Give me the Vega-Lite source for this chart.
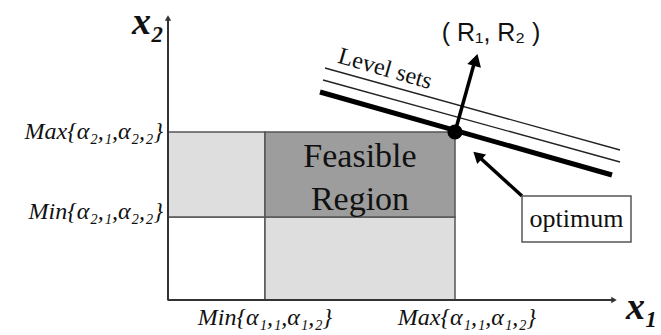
{
  "$schema": "https://vega.github.io/schema/vega-lite/v6.json",
  "width": 661,
  "height": 335,
  "padding": 0,
  "autosize": {"type": "none"},
  "background": "white",
  "config": {"view": {"stroke": null}},
  "datasets": {
    "regions": [
      {"x": 0, "x2": 97, "y": 0, "y2": 83, "part": "empty"},
      {"x": 0, "x2": 97, "y": 83, "y2": 168, "part": "side"},
      {"x": 97, "x2": 287, "y": 0, "y2": 83, "part": "side"},
      {"x": 97, "x2": 287, "y": 83, "y2": 168, "part": "feasible"}
    ],
    "axes": [
      {"axis": "x1", "x": 0, "y": 0},
      {"axis": "x1", "x": 446, "y": 0},
      {"axis": "x2", "x": 0, "y": 0},
      {"axis": "x2", "x": 0, "y": 282}
    ],
    "levels": [
      {"set": "optimal", "x": 152, "y": 208},
      {"set": "optimal", "x": 444, "y": 125},
      {"set": "upper1", "x": 155, "y": 220},
      {"set": "upper1", "x": 452, "y": 138},
      {"set": "upper2", "x": 157, "y": 232},
      {"set": "upper2", "x": 452, "y": 150}
    ],
    "arrows": [
      {"arrow": "R", "x": 287, "y": 168},
      {"arrow": "R", "x": 306, "y": 236},
      {"arrow": "opt", "x": 354, "y": 104},
      {"arrow": "opt", "x": 309, "y": 145}
    ],
    "heads": [
      {"head": "R", "x": 307.8, "y": 240},
      {"head": "opt", "x": 309.5, "y": 144.5},
      {"head": "x2", "x": 0, "y": 282},
      {"head": "x1", "x": 446, "y": 0}
    ],
    "optimum": [{"x": 287, "y": 168}],
    "box": [{"x": 354, "x2": 463, "y": 58, "y2": 104, "label": "optimum", "cx": 408.5, "cy": 81}],
    "regionText": [
      {"x": 192, "y": 143, "label": "Feasible"},
      {"x": 192, "y": 100, "label": "Region"}
    ],
    "yTicks": [
      {"x": -5, "y": 168, "label": "Max{α₂,₁,α₂,₂}"},
      {"x": -5, "y": 88, "label": "Min{α₂,₁,α₂,₂}"}
    ],
    "xTicks": [
      {"x": 97, "y": -18, "label": "Min{α₁,₁,α₁,₂}"},
      {"x": 299, "y": -18, "label": "Max{α₁,₁,α₁,₂}"}
    ],
    "axisTitles": [
      {"x": -36, "y": 277, "label": "x₂"},
      {"x": 458, "y": -8, "label": "x₁"}
    ],
    "levelText": [{"x": 217, "y": 231, "label": "Level sets"}],
    "rText": [{"x": 323, "y": 267, "label": "( R₁, R₂ )"}]
  },
  "encoding": {
    "x": {"field": "x", "type": "quantitative", "axis": null, "scale": {"domain": [-168, 493], "nice": false, "zero": false}},
    "y": {"field": "y", "type": "quantitative", "axis": null, "scale": {"domain": [-35, 300], "nice": false, "zero": false}}
  },
  "layer": [
    {
      "data": {"name": "regions"},
      "mark": {"type": "rect", "stroke": "#555555", "strokeWidth": 1.5},
      "encoding": {
        "x2": {"field": "x2"},
        "y2": {"field": "y2"},
        "fill": {"field": "part", "type": "nominal", "legend": null, "scale": {"domain": ["empty", "side", "feasible"], "range": ["#ffffff", "#dedede", "#9d9d9d"]}}
      }
    },
    {
      "data": {"name": "axes"},
      "mark": {"type": "line", "stroke": "#333333", "strokeWidth": 2},
      "encoding": {"detail": {"field": "axis"}}
    },
    {
      "data": {"name": "heads"},
      "transform": [{"filter": "datum.head === 'x2'"}],
      "mark": {"type": "point", "shape": "triangle-up", "filled": true, "color": "#333333", "size": 40, "angle": 0, "opacity": 1}
    },
    {
      "data": {"name": "heads"},
      "transform": [{"filter": "datum.head === 'x1'"}],
      "mark": {"type": "point", "shape": "triangle-up", "filled": true, "color": "#333333", "size": 40, "angle": 90, "opacity": 1}
    },
    {
      "data": {"name": "levels"},
      "transform": [{"filter": "datum.set !== 'optimal'"}],
      "mark": {"type": "line", "stroke": "#222222", "strokeWidth": 1.4},
      "encoding": {"detail": {"field": "set"}}
    },
    {
      "data": {"name": "levels"},
      "transform": [{"filter": "datum.set === 'optimal'"}],
      "mark": {"type": "line", "stroke": "#000000", "strokeWidth": 5},
      "encoding": {"detail": {"field": "set"}}
    },
    {
      "data": {"name": "arrows"},
      "mark": {"type": "line", "stroke": "#000000", "strokeWidth": 3.5},
      "encoding": {"detail": {"field": "arrow"}}
    },
    {
      "data": {"name": "heads"},
      "transform": [{"filter": "datum.head === 'R'"}],
      "mark": {"type": "point", "shape": "triangle-up", "filled": true, "color": "#000000", "size": 200, "angle": 16, "opacity": 1}
    },
    {
      "data": {"name": "heads"},
      "transform": [{"filter": "datum.head === 'opt'"}],
      "mark": {"type": "point", "shape": "triangle-up", "filled": true, "color": "#000000", "size": 170, "angle": 313, "opacity": 1}
    },
    {
      "data": {"name": "optimum"},
      "mark": {"type": "point", "shape": "circle", "filled": true, "color": "#000000", "size": 230, "opacity": 1}
    },
    {
      "data": {"name": "box"},
      "mark": {"type": "rect", "fill": "#ffffff", "stroke": "#555555", "strokeWidth": 1.5},
      "encoding": {"x2": {"field": "x2"}, "y2": {"field": "y2"}}
    },
    {
      "data": {"name": "box"},
      "mark": {"type": "text", "font": "Liberation Serif", "fontSize": 26, "color": "#111111", "align": "center", "baseline": "middle"},
      "encoding": {
        "x": {"field": "cx", "type": "quantitative"},
        "y": {"field": "cy", "type": "quantitative"},
        "text": {"field": "label"}
      }
    },
    {
      "data": {"name": "regionText"},
      "mark": {"type": "text", "font": "Liberation Serif", "fontSize": 34, "color": "#111111", "align": "center", "baseline": "middle"},
      "encoding": {"text": {"field": "label"}}
    },
    {
      "data": {"name": "yTicks"},
      "mark": {"type": "text", "font": "Liberation Serif", "fontStyle": "italic", "fontSize": 24, "color": "#111111", "align": "right", "baseline": "middle"},
      "encoding": {"text": {"field": "label"}}
    },
    {
      "data": {"name": "xTicks"},
      "mark": {"type": "text", "font": "Liberation Serif", "fontStyle": "italic", "fontSize": 24, "color": "#111111", "align": "center", "baseline": "middle"},
      "encoding": {"text": {"field": "label"}}
    },
    {
      "data": {"name": "axisTitles"},
      "mark": {"type": "text", "font": "Liberation Serif", "fontStyle": "italic", "fontWeight": "bold", "fontSize": 38, "color": "#111111", "align": "left", "baseline": "middle"},
      "encoding": {"text": {"field": "label"}}
    },
    {
      "data": {"name": "levelText"},
      "mark": {"type": "text", "font": "Liberation Serif", "fontSize": 24, "color": "#111111", "align": "center", "baseline": "middle", "angle": 16},
      "encoding": {"text": {"field": "label"}}
    },
    {
      "data": {"name": "rText"},
      "mark": {"type": "text", "font": "Liberation Sans", "fontSize": 25, "color": "#111111", "align": "center", "baseline": "middle"},
      "encoding": {"text": {"field": "label"}}
    }
  ]
}
